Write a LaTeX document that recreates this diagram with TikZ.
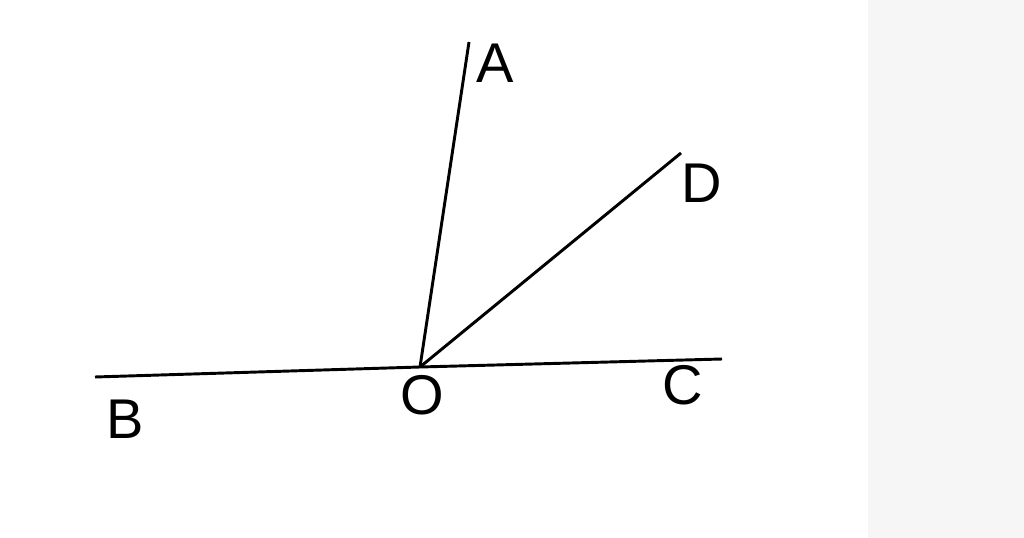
\documentclass[tikz,border=0pt]{standalone}
\usepackage{fontspec}
\setmainfont{Liberation Sans}
\definecolor{sidegray}{RGB}{246,246,246}

\begin{document}
\begin{tikzpicture}[x=0.75pt, y=-0.75pt, line width=2.2pt,
  pointlabel/.style={inner sep=0pt, font=\fontsize{42}{42}\selectfont}]

  % === Canvas and grey strip ===
  \useasboundingbox (0,0) rectangle (1024,538);
  \fill[sidegray] (868,0) rectangle (1024,538);

  % === Points ===
  \coordinate (O) at (420,367);
  \coordinate (A) at (469,42);
  \coordinate (D) at (681,153);
  \coordinate (B) at (95,377);
  \coordinate (C) at (722,359);

  % === Rays ===
  \draw (B) -- (O) -- (C);
  \draw (O) -- (A);
  \draw (O) -- (D);

  % === Labels ===
  \node[pointlabel] (labA) at (495,63.5) {A};
  \node[pointlabel] (labD) at (701.5,183) {D};
  \node[pointlabel] (labB) at (125,419.5) {B};
  \node[pointlabel] (labO) at (422.5,395) {O};
  \node[pointlabel] (labC) at (682.5,385.5) {C};

\end{tikzpicture}
\end{document}
